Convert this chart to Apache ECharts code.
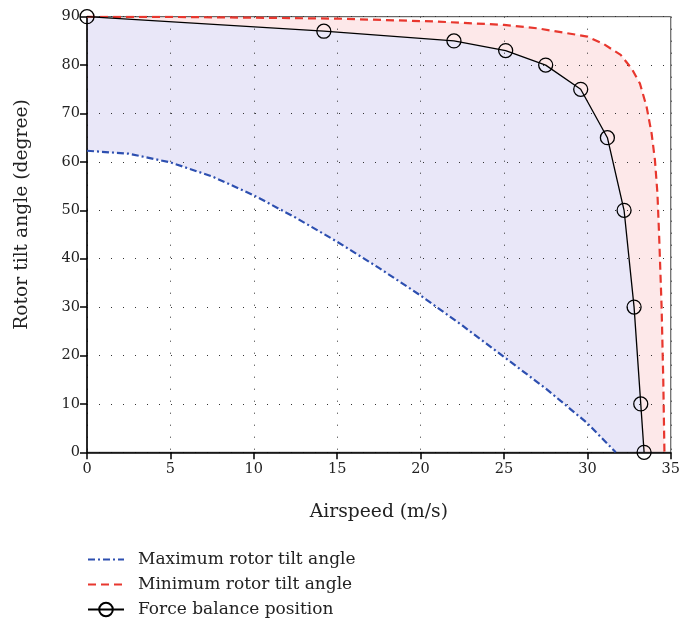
<!DOCTYPE html>
<html>
<head>
<meta charset="utf-8">
<script src="https://cdn.jsdelivr.net/npm/echarts@6/dist/echarts.min.js"></script>
<style>
  html, body { margin: 0; padding: 0; background: #fff; }
  #chart { width: 683px; height: 623px; }
</style>
</head>
<body>
<div id="chart"></div>
<script>
// Airspeed (m/s) vs rotor tilt angle (degree)
const xTicks = [0, 5, 10, 15, 20, 25, 30, 35];
const yTicks = [0, 10, 20, 30, 40, 50, 60, 70, 80, 90];

// Upper limit on tilt angle at each airspeed
const maxTilt = [
  [0, 62.3], [2.5, 61.7], [5, 59.9], [7.5, 57.0], [10, 53.1], [12.5, 48.5],
  [15, 43.5], [17.5, 38.1], [20, 32.4], [22.5, 26.2], [25, 19.7], [27.5, 13.2],
  [30, 6.0], [31.7, 0]
];

// Lower limit on tilt angle at each airspeed
const minTilt = [
  [0, 90], [5, 89.95], [10, 89.8], [15, 89.6], [21, 89.0], [25, 88.3], [27, 87.6],
  [30, 85.9], [31, 84.3], [32, 82.1], [32.65, 79.3], [33.15, 76.2], [33.55, 71.4],
  [33.85, 65.9], [34.05, 60.4], [34.2, 53.5], [34.3, 45], [34.45, 30], [34.55, 15],
  [34.62, 0]
];

// Trim points where forces balance
const balance = [
  [0, 90], [14.2, 87.0], [22.0, 85.0], [25.1, 83.0], [27.5, 80.0], [29.6, 75.0],
  [31.2, 65.0], [32.2, 50.0], [32.8, 30.0], [33.2, 10.0], [33.4, 0]
];

const legendNames = ['Maximum rotor tilt angle', 'Minimum rotor tilt angle', 'Force balance position'];

const SERIF = '"DejaVu Serif", "Liberation Serif", serif';

const chart = echarts.init(document.getElementById('chart'), null, { renderer: 'canvas' });

// Shaded regions: between max limit and balance curve, and between balance curve and min limit
function renderBands(params, api) {
  const lower = balance.concat(maxTilt.slice().reverse()).map(p => api.coord(p));
  const upper = minTilt.concat(balance.slice().reverse()).map(p => api.coord(p));
  return {
    type: 'group',
    children: [
      { type: 'polygon', shape: { points: lower }, style: { fill: '#e9e7f8' } },
      { type: 'polygon', shape: { points: upper }, style: { fill: '#fde8e9' } }
    ]
  };
}

const option = {
  backgroundColor: '#fff',
  animation: false,
  grid: {
    left: 87, right: 10.5, top: 16.7, bottom: 170.7,
    show: true, borderColor: '#444', borderWidth: 1, backgroundColor: 'transparent'
  },
  legend: {
    orient: 'vertical',
    left: 87, top: 551, height: 90, padding: 0,
    itemWidth: 36, itemHeight: 17, itemGap: 8,
    data: [
      { name: legendNames[0], itemStyle: { opacity: 0 } },
      { name: legendNames[1], itemStyle: { opacity: 0 } },
      { name: legendNames[2] }
    ],
    textStyle: { fontFamily: SERIF, fontSize: 17, color: '#222', padding: [0, 0, 0, 9] }
  },
  xAxis: {
    type: 'value', min: xTicks[0], max: xTicks[xTicks.length - 1], interval: 5,
    name: 'Airspeed (m/s)', nameLocation: 'middle', nameGap: 50,
    nameTextStyle: { fontFamily: SERIF, fontSize: 18.7, color: '#222' },
    axisLine: { show: true, onZero: false, lineStyle: { color: '#000', width: 1.5 } },
    axisTick: { show: true, inside: false, length: 7, lineStyle: { color: '#000', width: 1.5 } },
    axisLabel: { fontFamily: SERIF, fontSize: 14.5, color: '#222', margin: 9 },
    splitLine: { show: true, lineStyle: { color: '#333', width: 1, type: [1, 11] } }
  },
  yAxis: {
    type: 'value', min: yTicks[0], max: yTicks[yTicks.length - 1], interval: 10,
    name: 'Rotor tilt angle (degree)', nameLocation: 'middle', nameGap: 55,
    nameTextStyle: { fontFamily: SERIF, fontSize: 18.7, color: '#222', padding: [0, 0, 0, 40] },
    axisLine: { show: true, onZero: false, lineStyle: { color: '#000', width: 1.5 } },
    axisTick: { show: true, inside: false, length: 7, lineStyle: { color: '#000', width: 1.5 } },
    axisLabel: { fontFamily: SERIF, fontSize: 14.5, color: '#222', margin: 7 },
    splitLine: { show: true, lineStyle: { color: '#333', width: 1, type: [1, 11] } }
  },
  series: [
    {
      type: 'custom', name: 'bands', silent: true, z: -1,
      data: [0], renderItem: renderBands
    },
    {
      type: 'line', name: legendNames[0], data: maxTilt,
      symbol: 'none', smooth: false, z: 3,
      lineStyle: { color: '#2d4fb0', width: 2.2, type: [7, 3, 2, 3] },
      itemStyle: { color: '#2d4fb0' }
    },
    {
      type: 'line', name: legendNames[1], data: minTilt,
      symbol: 'none', smooth: false, z: 3,
      lineStyle: { color: '#e8372e', width: 2.2, type: [8, 5] },
      itemStyle: { color: '#e8372e' }
    },
    {
      type: 'line', name: legendNames[2], data: balance,
      symbol: 'circle', symbolSize: 14, showSymbol: true, z: 4,
      lineStyle: { color: '#000', width: 1.3 },
      itemStyle: { color: 'rgba(0,0,0,0)', borderColor: '#000', borderWidth: 1.3 }
    }
  ]
};

chart.setOption(option);
</script>
</body>
</html>
